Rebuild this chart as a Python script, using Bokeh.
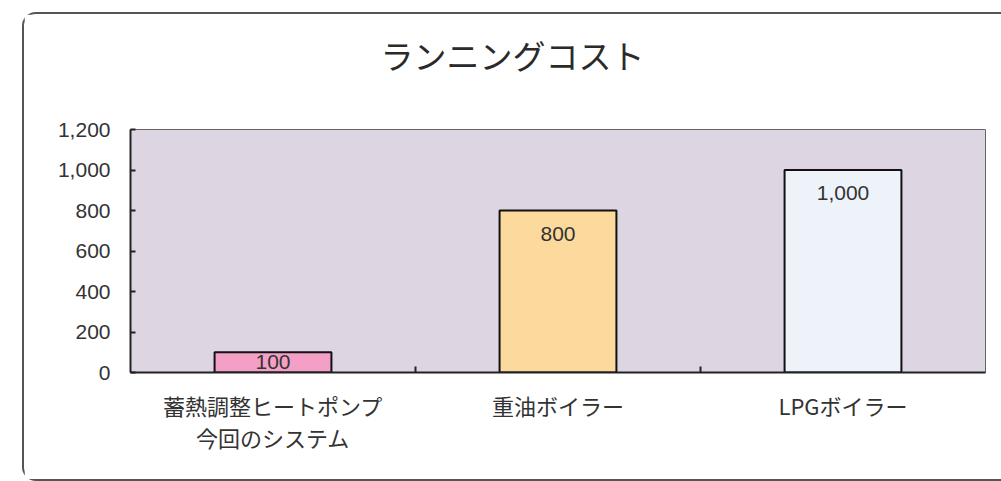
from bokeh.plotting import figure
from bokeh.models import FixedTicker, NumeralTickFormatter, Range1d, Title, ColumnDataSource
from bokeh.core.properties import value
from bokeh.embed import file_html
from bokeh.resources import INLINE
import numpy as np

title_text = "ランニングコスト"
categories = ["蓄熱調整ヒートポンプ\n今回のシステム", "重油ボイラー", "LPGボイラー"]
costs = [100, 800, 1000]
bar_colors = ["#f4a0c6", "#fcd99c", "#eef3fa"]
label_texts = ["100", "800", "1,000"]
y_ticks = [0, 200, 400, 600, 800, 1000, 1200]

FONT = "Liberation Sans"
JP = "Noto Sans CJK JP"

x = np.arange(len(categories)) + 0.5

p = figure(width=979, height=469, output_backend="svg", toolbar_location=None,
           x_range=Range1d(0, len(categories)), y_range=Range1d(0, 1200),
           min_border_left=106, min_border_right=18, min_border_bottom=111, min_border_top=115)
p.styles = {"margin-left": "22px", "margin-top": "12px",
            "border-left": "2px solid #555", "border-top": "2px solid #555",
            "border-bottom": "2px solid #555",
            "border-top-left-radius": "14px", "border-bottom-left-radius": "14px"}

# blank spacer panel between the title and the plot frame
p.add_layout(Title(text=" ", text_font_size="1px", standoff=43), "above")

p.title.text = title_text
p.title.align = "left"
p.title.offset = 250
p.title.text_font = JP
p.title.text_font_size = "33px"
p.title.text_font_style = "normal"
p.title.text_color = "#2a2a2a"
p.title.standoff = 10

p.background_fill_color = "#ddd5e1"
p.border_fill_color = "white"
p.outline_line_color = "#666666"
p.outline_line_width = 1
p.grid.visible = False

src = ColumnDataSource(dict(x=x, top=costs, color=bar_colors, label=label_texts,
                            ly=[c / 2 if c < 200 else c for c in costs],
                            base=["middle" if c < 200 else "top" for c in costs],
                            off=[0 if c < 200 else 16 for c in costs]))
p.vbar(x="x", top="top", bottom=0, width=0.41, fill_color="color",
       line_color="#111111", line_width=2, source=src)
p.text(x="x", y="ly", text="label", text_align="center", text_baseline="base",
       y_offset="off", text_font=value(FONT), text_font_size="21px", text_color="#333333",
       source=src)

# x axis
p.xaxis.ticker = FixedTicker(ticks=list(x), minor_ticks=list(np.arange(1, len(categories))))
p.xaxis.major_label_overrides = {float(xi): c for xi, c in zip(x, categories)}
p.xaxis.major_tick_in = 0
p.xaxis.major_tick_out = 0
p.xaxis.minor_tick_in = 6
p.xaxis.minor_tick_out = 0
p.xaxis.minor_tick_line_color = "#222222"
p.xaxis.minor_tick_line_width = 2
p.xaxis.axis_line_color = "#222222"
p.xaxis.axis_line_width = 2
p.xaxis.major_label_text_font = JP
p.xaxis.major_label_text_font_size = "22px"
p.xaxis.major_label_text_color = "#333333"
p.xaxis.major_label_text_line_height = 1.0
p.xaxis.major_label_standoff = 16

# y axis
p.yaxis.ticker = FixedTicker(ticks=y_ticks, minor_ticks=[])
p.yaxis.formatter = NumeralTickFormatter(format="0,0")
p.yaxis.major_tick_in = 5
p.yaxis.major_tick_out = 0
p.yaxis.major_tick_line_color = "#222222"
p.yaxis.major_tick_line_width = 2
p.yaxis.minor_tick_line_color = None
p.yaxis.axis_line_color = "#222222"
p.yaxis.axis_line_width = 2
p.yaxis.major_label_text_font = FONT
p.yaxis.major_label_text_font_size = "21px"
p.yaxis.major_label_text_color = "#333333"
p.yaxis.major_label_standoff = 20

open("out.html", "w").write(file_html(p, INLINE))
